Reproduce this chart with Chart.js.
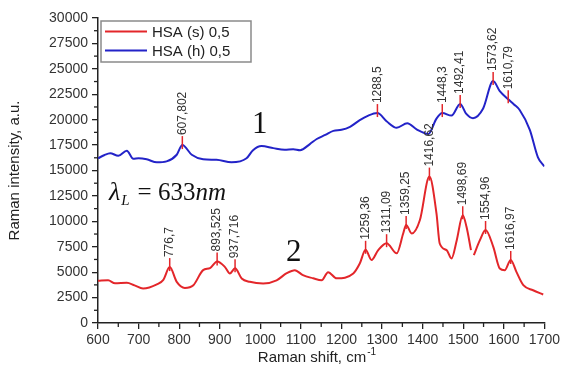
<!DOCTYPE html>
<html>
<head>
<meta charset="utf-8">
<script src="https://cdn.jsdelivr.net/npm/chart.js@4.4.1/dist/chart.umd.min.js"></script>
<style>
  body { margin: 0; background: #fff; }
  #wrap { width: 563px; height: 372px; }
</style>
</head>
<body>
<div id="wrap"><canvas id="myChart" width="563" height="372"></canvas></div>
<script>

// spectra (x = Raman shift, y = intensity)

let blueShift = [600, 615, 630, 650, 671, 687, 700, 720, 745, 769, 794, 807.802, 831, 859, 892, 929, 966, 982, 1003, 1032, 1060, 1081, 1098, 1122, 1139, 1160, 1180, 1200, 1221, 1245, 1266, 1288.5, 1311, 1336, 1362, 1385, 1414, 1434, 1448.3, 1471, 1492.41, 1507, 1524, 1549, 1573.62, 1590, 1610.79, 1625, 1639, 1664, 1684, 1700];
let blueValues = [16200, 16500, 16700, 16450, 16950, 16150, 16200, 16100, 15800, 15900, 16550, 17500, 16550, 16100, 16050, 15800, 16200, 17000, 17400, 17200, 17050, 17100, 17000, 17600, 18100, 18500, 18900, 19000, 19300, 19950, 20400, 20650, 19850, 19200, 19650, 19050, 18600, 20100, 20650, 20400, 21550, 20600, 20150, 21100, 23800, 22800, 22000, 21500, 20950, 19000, 16300, 15400];

let redShift = [600, 625, 642, 671, 690, 711, 745, 761, 776.7, 794, 814, 835, 859, 876, 893.525, 913, 925, 937.716, 954, 974, 1007, 1040, 1065, 1085, 1105, 1130, 1151, 1167, 1188, 1229, 1245, 1259.36, 1274, 1290, 1311.09, 1336, 1352, 1359.25, 1373, 1393, 1416.62, 1434, 1442, 1459, 1471, 1484, 1498.69, 1508, 1519, 1522, 1526, 1541, 1554.96, 1574, 1590, 1602, 1616.97, 1631, 1648, 1672, 1697];
let redValues = [4150, 4200, 3900, 3950, 3700, 3400, 3800, 4250, 5500, 4050, 3450, 3720, 5200, 5400, 6050, 5500, 4870, 5380, 4380, 4050, 3880, 4200, 4900, 5200, 4700, 4400, 4200, 5000, 4400, 4870, 5850, 7200, 6200, 7150, 7850, 6850, 8800, 9650, 8800, 10100, 14400, 10780, 7820, 7170, 6350, 8150, 10600, 9460, 7170, null, 6670, 8150, 9150, 7490, 5360, 5190, 6200, 5030, 3720, 3220, 2800];

// peak marks

let bluePeaks = [807.802, 1288.5, 1448.3, 1492.41, 1573.62, 1610.79];
let bluePeakText = ['607,802', '1288,5', '1448,3', '1492,41', '1573,62', '1610,79'];
let redPeaks = [776.7, 893.525, 937.716, 1259.36, 1311.09, 1359.25, 1416.62, 1498.69, 1554.96, 1616.97];
let redPeakText = ['776,7', '893,525', '937,716', '1259,36', '1311,09', '1359,25', '1416,62', '1498,69', '1554,96', '1616,97'];

let seriesNames = ['HSA (s) 0,5', 'HSA (h) 0,5'];

// axis ticks

let xTicks = [600, 700, 800, 900, 1000, 1100, 1200, 1300, 1400, 1500, 1600, 1700];
let yTicks = [0, 2500, 5000, 7500, 10000, 12500, 15000, 17500, 20000, 22500, 25000, 27500, 30000];

let redColor = '#e3262a';
let blueColor = '#2323c8';

Chart.defaults.font.family = "'Liberation Sans', Arial, sans-serif";
Chart.defaults.color = '#333';

function pts(xs, ys) {
    return xs.map((v, i) => ({ x: v, y: ys[i] }));
}

// labels, legend, minor ticks and other texts

const extras = {
    id: 'extras',
    afterDatasetsDraw(chart) {
        const ctx = chart.ctx;
        const x = chart.scales.x;
        const y = chart.scales.y;
        const area = chart.chartArea;

        ctx.save();

        // minor ticks
        ctx.strokeStyle = '#222';
        ctx.lineWidth = 1.3;
        for (let i = 0; i < xTicks.length - 1; i++) {
            let px = x.getPixelForValue((xTicks[i] + xTicks[i + 1]) / 2);
            ctx.beginPath();
            ctx.moveTo(px, area.bottom);
            ctx.lineTo(px, area.bottom + 4);
            ctx.stroke();
        }
        for (let i = 0; i < yTicks.length - 1; i++) {
            let py = y.getPixelForValue((yTicks[i] + yTicks[i + 1]) / 2);
            ctx.beginPath();
            ctx.moveTo(area.left, py);
            ctx.lineTo(area.left - 4, py);
            ctx.stroke();
        }

        // peak labels
        function marks(peaks, texts, ds) {
            peaks.forEach((p, i) => {
                let d = chart.data.datasets[ds].data.find(o => o.x === p);
                let px = x.getPixelForValue(p);
                let py = y.getPixelForValue(d.y);
                ctx.strokeStyle = redColor;
                ctx.lineWidth = 1.5;
                ctx.beginPath();
                ctx.moveTo(px, py - 9);
                ctx.lineTo(px, py + 4);
                ctx.stroke();
                ctx.save();
                ctx.translate(px, py - 10);
                ctx.rotate(-Math.PI / 2);
                ctx.fillStyle = '#333';
                ctx.font = "12px 'Liberation Sans', Arial, sans-serif";
                ctx.textAlign = 'left';
                ctx.textBaseline = 'middle';
                ctx.fillText(texts[i], 0, 0);
                ctx.restore();
            });
        }
        marks(bluePeaks, bluePeakText, 1);
        marks(redPeaks, redPeakText, 0);

        // legend
        ctx.strokeStyle = '#8a8a8a';
        ctx.lineWidth = 1.5;
        ctx.strokeRect(101, 21, 150, 41);
        chart.data.datasets.forEach((ds, i) => {
            let ly = 31.5 + i * 19;
            ctx.strokeStyle = ds.borderColor;
            ctx.lineWidth = 2;
            ctx.beginPath();
            ctx.moveTo(105, ly);
            ctx.lineTo(147, ly);
            ctx.stroke();
            ctx.fillStyle = '#222';
            ctx.font = "15px 'Liberation Sans', Arial, sans-serif";
            ctx.textBaseline = 'middle';
            ctx.textAlign = 'left';
            ctx.fillText(ds.label, 152, ly + 1);
        });

        // curve numbers
        ctx.fillStyle = '#111';
        ctx.font = "31px 'Liberation Serif', 'Times New Roman', serif";
        ctx.textBaseline = 'alphabetic';
        ctx.fillText('1', 252, 133);
        ctx.fillText('2', 286, 261);

        // laser line
        let lx = 109;
        let lb = 200;
        ctx.font = "italic 26px 'Liberation Serif', serif";
        ctx.fillText('λ', lx, lb);
        lx += ctx.measureText('λ').width + 1;
        ctx.font = "italic 15px 'Liberation Serif', serif";
        ctx.fillText('L', lx, lb + 5);
        lx += ctx.measureText('L').width + 8;
        ctx.font = "25px 'Liberation Serif', serif";
        ctx.fillText('= 633', lx, lb);
        lx += ctx.measureText('= 633').width;
        ctx.font = "italic 25px 'Liberation Serif', serif";
        ctx.fillText('nm', lx, lb);

        // x axis title
        ctx.font = "15px 'Liberation Sans', Arial, sans-serif";
        ctx.fillStyle = '#222';
        let t = 'Raman shift, cm';
        let w = ctx.measureText(t).width;
        let sx = 316 - (w + 8) / 2;
        ctx.fillText(t, sx, 362);
        ctx.font = "10px 'Liberation Sans', Arial, sans-serif";
        ctx.fillText('-1', sx + w + 1, 355);

        ctx.restore();
    }
};

let barChart = new Chart(document.getElementById('myChart').getContext('2d'), {
    type: 'line',
    data: {
        datasets: [{
            label: seriesNames[0],
            data: pts(redShift, redValues),
            borderColor: redColor,
            borderWidth: 2,
            pointRadius: 0,
            cubicInterpolationMode: 'monotone',
            spanGaps: false,
        }, {
            label: seriesNames[1],
            data: pts(blueShift, blueValues),
            borderColor: blueColor,
            borderWidth: 2,
            pointRadius: 0,
            cubicInterpolationMode: 'monotone',
        }]
    },
    options: {
        responsive: false,
        animation: false,
        layout: { padding: { top: 18, right: 18, left: 0, bottom: 0 } },
        scales: {
            x: {
                type: 'linear',
                min: 600,
                max: 1700,
                afterBuildTicks: s => { s.ticks = xTicks.map(v => ({ value: v })); },
                afterFit: s => { s.height = 49; },
                ticks: {
                    autoSkip: false,
                    maxRotation: 0,
                    padding: 3,
                    color: '#333',
                    font: { size: 14 },
                    callback: v => String(v)
                },
                grid: { drawOnChartArea: false, tickLength: 6, color: '#222', lineWidth: 1.3 },
                border: { color: '#222', width: 1.5 }
            },
            y: {
                min: 0,
                max: 30000,
                afterBuildTicks: s => { s.ticks = yTicks.map(v => ({ value: v })); },
                afterFit: s => { s.width = 98; },
                ticks: {
                    autoSkip: false,
                    padding: 4,
                    color: '#333',
                    font: { size: 14 },
                    callback: v => String(v)
                },
                grid: { drawOnChartArea: false, tickLength: 6, color: '#222', lineWidth: 1.3 },
                border: { color: '#222', width: 1.5 },
                title: {
                    display: true,
                    text: 'Raman intensity, a.u.',
                    color: '#222',
                    font: { size: 15 },
                    padding: { top: 6, bottom: 0 }
                }
            }
        },
        plugins: {
            legend: { display: false },
            tooltip: { enabled: false }
        }
    },
    plugins: [extras]
});

</script>
</body>
</html>
